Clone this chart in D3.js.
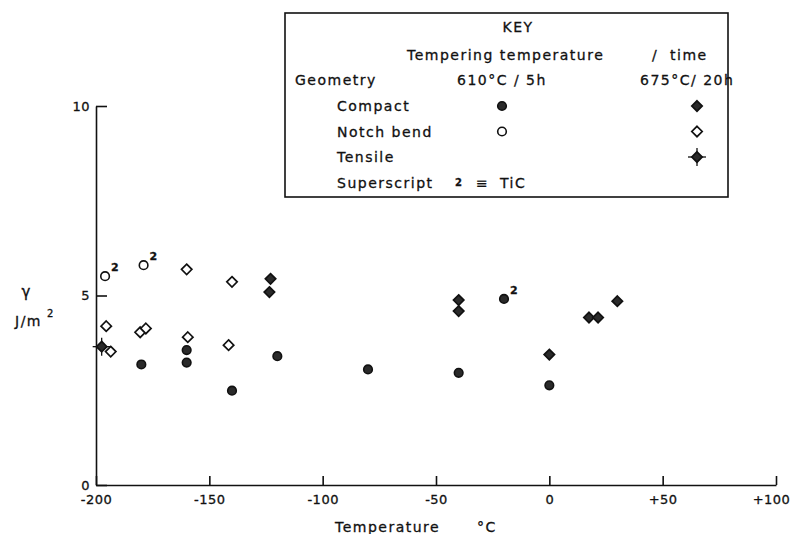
<!DOCTYPE html>
<html lang="en">
<head>
<meta charset="UTF-8">
<title>toughness vs temperature</title>
<script src="https://cdn.jsdelivr.net/npm/d3@7"></script>
<style>
    body{ margin:0; background:#fff; }
    svg text{ font-family:"DejaVu Sans", sans-serif; fill:#111; letter-spacing:1.5px; stroke:#111; stroke-width:0.3px; }
    .axis path, .axis line{ stroke:#111; stroke-width:1.6px; }
    .axis text{ font-size:13px; letter-spacing:0.5px; }
</style>
</head>
<body>
<svg id="main" width="794" height="534"></svg>
<script>
    // data: temperature (°C), gamma (J/m2)
    let compact610_t = [-180, -160, -160, -140, -120, -80, -40, -20, 0]
    let compact610_y = [3.18, 3.56, 3.23, 2.49, 3.40, 3.05, 2.96, 4.91, 2.63]
    let compact610_tic = [false, false, false, false, false, false, false, true, false]

    let compact675_t = [-123, -123.5, -40, -40, 0, 17.5, 21.5, 30]
    let compact675_y = [5.44, 5.09, 4.88, 4.59, 3.44, 4.42, 4.42, 4.85]

    let notch610_t = [-196, -179]
    let notch610_y = [5.51, 5.80]
    let notch610_tic = [true, true]

    let notch675_t = [-160, -140, -195.5, -180.5, -178, -159.5, -141.5, -193.5]
    let notch675_y = [5.69, 5.36, 4.19, 4.03, 4.13, 3.90, 3.69, 3.52]

    let tensile675_t = [-197.5]
    let tensile675_y = [3.65]

    let xTicks = [-200, -150, -100, -50, 0, 50, 100]
    let yTicks = [0, 5, 10]

    let legendRows = ["Compact", "Notch bend", "Tensile"]

    let svg = d3.select("#main")
    let x = d3.scaleLinear().domain([-200, 100]).range([96, 776])
    let y = d3.scaleLinear().domain([0, 10]).range([485, 106])

    // axes
    let xAxis = svg.append("g")
        .attr("class", "axis")
        .attr("transform", "translate(0," + y(0) + ")")
        .call(d3.axisBottom(x).tickValues(xTicks).tickSizeInner(-9).tickSizeOuter(0).tickPadding(10)
            .tickFormat(d => d > 0 ? "+" + d : String(d)))
    // last label sits a bit left of its tick in the original
    xAxis.selectAll(".tick text").filter(d => d === 100).attr("dx", -5)
    svg.append("g")
        .attr("class", "axis")
        .attr("transform", "translate(" + x(-200) + ",0)")
        .call(d3.axisLeft(y).tickValues(yTicks).tickSizeInner(-11).tickSizeOuter(0).tickPadding(6))
    svg.selectAll(".axis .domain").attr("fill", "none")

    // axis titles
    svg.append("text").attr("x", 335).attr("y", 532).style("font-size", "14px").text("Temperature")
    svg.append("text").attr("x", 477).attr("y", 532).style("font-size", "14px").text("°C")
    svg.append("text").attr("x", 26).attr("y", 297).attr("text-anchor", "middle")
        .style("font-size", "15px").style("letter-spacing", "0px").text("γ")
    svg.append("text").attr("x", 15).attr("y", 326).style("font-size", "14px").text("J/m")
    svg.append("text").attr("x", 47).attr("y", 317).style("font-size", "10px").text("2")

    // symbol helpers
    function circle(g, cx, cy, filled){
        g.append("circle").attr("cx", cx).attr("cy", cy).attr("r", 4.3)
            .attr("fill", filled ? "#2a2a2a" : "#fff")
            .attr("stroke", "#111").attr("stroke-width", 1.6)
    }
    function diamond(g, cx, cy, filled){
        let s = 5.2
        g.append("path")
            .attr("d", `M${cx},${cy - s}L${cx + s},${cy}L${cx},${cy + s}L${cx - s},${cy}Z`)
            .attr("fill", filled ? "#2a2a2a" : "#fff")
            .attr("stroke", "#111").attr("stroke-width", 1.7)
    }
    function star(g, cx, cy){
        g.append("line").attr("x1", cx - 9).attr("x2", cx + 9).attr("y1", cy).attr("y2", cy)
            .attr("stroke", "#111").attr("stroke-width", 1.3)
        g.append("line").attr("x1", cx).attr("x2", cx).attr("y1", cy - 9).attr("y2", cy + 9)
            .attr("stroke", "#111").attr("stroke-width", 1.3)
        diamond(g, cx, cy, true)
    }
    function tic(g, cx, cy){
        g.append("text").attr("x", cx + 6).attr("y", cy - 5).style("font-size", "11px").style("font-weight", "bold").text("2")
    }

    let pts = svg.append("g")
    notch675_t.forEach((t, i) => diamond(pts, x(t), y(notch675_y[i]), false))
    notch610_t.forEach((t, i) => {
        circle(pts, x(t), y(notch610_y[i]), false)
        if (notch610_tic[i]) tic(pts, x(t), y(notch610_y[i]))
    })
    compact610_t.forEach((t, i) => {
        circle(pts, x(t), y(compact610_y[i]), true)
        if (compact610_tic[i]) tic(pts, x(t), y(compact610_y[i]))
    })
    compact675_t.forEach((t, i) => diamond(pts, x(t), y(compact675_y[i]), true))
    tensile675_t.forEach((t, i) => star(pts, x(t), y(tensile675_y[i])))

    // key
    let key = svg.append("g")
    key.append("rect").attr("x", 285).attr("y", 13).attr("width", 443).attr("height", 184)
        .attr("fill", "#fff").attr("stroke", "#111").attr("stroke-width", 1.6)
    key.append("text").attr("x", 518).attr("y", 32).attr("text-anchor", "middle").style("font-size", "14px").text("KEY")
    key.append("text").attr("x", 407).attr("y", 60).style("font-size", "14px").text("Tempering temperature")
    key.append("text").attr("x", 652).attr("y", 60).style("font-size", "14px").text("/")
    key.append("text").attr("x", 670).attr("y", 60).style("font-size", "14px").text("time")
    key.append("text").attr("x", 295).attr("y", 85).style("font-size", "14px").text("Geometry")
    key.append("text").attr("x", 457).attr("y", 85).style("font-size", "14px").text("610°C / 5h")
    key.append("text").attr("x", 640).attr("y", 85).style("font-size", "14px").text("675°C/ 20h")
    legendRows.forEach((name, i) => {
        let yy = 106 + i * 25.5
        key.append("text").attr("x", 337).attr("y", yy + 5).style("font-size", "14px").text(name)
        if (name === "Compact") { circle(key, 502, yy, true); diamond(key, 697, yy, true) }
        if (name === "Notch bend") { circle(key, 502, yy, false); diamond(key, 697, yy, false) }
        if (name === "Tensile") star(key, 697, yy)
    })
    key.append("text").attr("x", 337).attr("y", 188).style("font-size", "14px").text("Superscript")
    key.append("text").attr("x", 455).attr("y", 186).style("font-size", "10px").style("font-weight", "bold").text("2")
    key.append("text").attr("x", 476).attr("y", 188).style("font-size", "14px").text("≡")
    key.append("text").attr("x", 500).attr("y", 188).style("font-size", "14px").text("TiC")
</script>
</body>
</html>
